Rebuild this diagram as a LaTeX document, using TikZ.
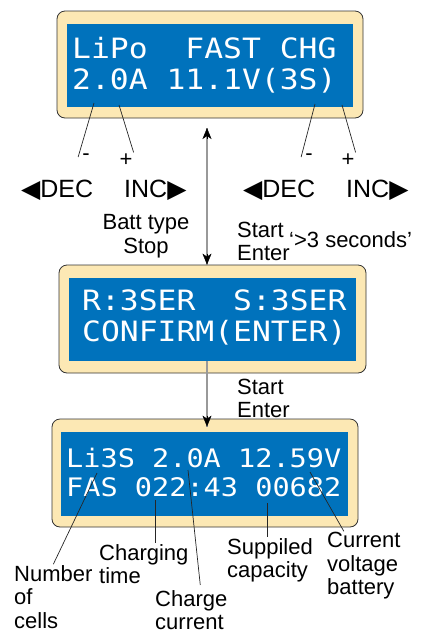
\documentclass[tikz,border=0pt]{standalone}
\usepackage{fontspec}
\setmainfont{Liberation Sans}
\newfontfamily\lcdfont[FakeStretch=1.12]{DejaVu Sans Mono}
\newfontfamily\symfont{DejaVu Sans}
\usetikzlibrary{arrows.meta}
\definecolor{lcdblue}{RGB}{0,114,188}
\definecolor{lcdcream}{RGB}{252,232,180}

\begin{document}
\begin{tikzpicture}[x=1pt,y=-1pt]

%
% Styles
%
\tikzstyle{panel} = [rectangle,rounded corners=8pt,draw=black!80,fill=lcdcream,line width=0.8pt,inner sep=0pt]
\tikzstyle{screen} = [rectangle,fill=lcdblue,inner sep=0pt]
\tikzstyle{lcd} = [text=white,font=\lcdfont\fontsize{28}{31}\selectfont,align=left,anchor=west,inner sep=0pt]
\tikzstyle{lbl} = [font=\fontsize{22}{23.5}\selectfont,align=left,inner sep=1pt]
\tikzstyle{key} = [font=\fontsize{25}{28}\selectfont,inner sep=0pt,anchor=west]
\tikzstyle{lead} = [draw=black!85,line width=0.7pt]
\tikzstyle{flow} = [draw=black!40,line width=1.2pt]
\tikzstyle{tip} = [-{Stealth[length=11pt,width=9pt,inset=3pt,color=black]}]

\useasboundingbox (0,0) rectangle (423,633);

% panels
\node[panel,minimum width=306pt,minimum height=107pt] (lcdA) at (210,64.5) {};
\node[screen,minimum width=286pt,minimum height=83pt] (scrA) at (210,65.5) {};
\node[panel,minimum width=307pt,minimum height=108pt] (lcdB) at (212.5,319) {};
\node[screen,minimum width=287pt,minimum height=83pt] (scrB) at (212.5,319.5) {};
\node[panel,minimum width=306pt,minimum height=108pt] (lcdC) at (205,473) {};
\node[screen,minimum width=287pt,minimum height=84pt] (scrC) at (204.5,474) {};

\node[lcd] (txtA) at (72,65) {LiPo~~FAST CHG\\2.0A 11.1V(3S)};
\node[lcd] (txtB) at (82,317) {R:3SER~~S:3SER\\CONFIRM(ENTER)};
\node[lcd,font=\lcdfont\fontsize{25.5}{29}\selectfont] (txtC) at (66,472.5) {Li3S 2.0A 12.59V\\FAS 022:43 00682};

% keys
\node[lbl] (m1) at (86,157) {-};
\node[lbl] (p1) at (126,160) {+};
\node[lbl] (m2) at (309,157) {-};
\node[lbl] (p2) at (348,160) {+};
\node[key] (dec1) at (21,190) {{\symfont ◀}DEC};
\node[key] (inc1) at (124,190) {INC{\symfont ▶}};
\node[key] (dec2) at (243,190) {{\symfont ◀}DEC};
\node[key] (inc2) at (346,190) {INC{\symfont ▶}};

\coordinate (s1) at (94,103);
\coordinate (s2) at (119,105);
\coordinate (s3) at (315,104);
\coordinate (s4) at (342,105);
\draw[lead] (s1) -- ([xshift=-3pt]m1.west);
\draw[lead] (s2) -- (p1.north east);
\draw[lead] (s3) -- ([xshift=-3pt]m2.west);
\draw[lead] (s4) -- (p2.north east);

% flow
\coordinate (a1) at (207,128);
\coordinate (a2) at (207,361);
\draw[flow] (a1) -- (a1 |- lcdB.north);
\draw[tip] ([yshift=-11pt]a1) -- (a1);
\draw[tip] ([yshift=11pt]a1 |- lcdB.north) -- (a1 |- lcdB.north);
\draw[flow] (a2) -- ([yshift=-8pt]a2 |- lcdC.north);
\draw[tip] ([yshift=3pt]a2 |- lcdC.north) -- ([yshift=-8pt]a2 |- lcdC.north);

\node[lbl,align=center] (batt) at (146,236) {Batt type\\Stop};
\node[lbl,anchor=west] (start1) at (236,241.5) {Start\\Enter};
\node[lbl,anchor=west] (secs) at (288,240) {‘>3 seconds’};
\node[lbl,anchor=west] (start2) at (236,398.5) {Start\\Enter};

% bottom labels
\node[lbl,anchor=west] (num) at (13,597) {Number\\of\\cells};
\node[lbl,anchor=west] (chg) at (98,564) {Charging\\time};
\node[lbl,anchor=west] (cur) at (154,610) {Charge\\current};
\node[lbl,anchor=west] (sup) at (226,560.5) {Suppiled\\capacity};
\node[lbl,anchor=west] (volt) at (326,566) {Current\\voltage\\battery};

\coordinate (c1) at (97,473);
\coordinate (c2) at (155,500);
\coordinate (c3) at (188,470);
\coordinate (c4) at (267,503);
\coordinate (c5) at (310,472);
\draw[lead] (c1) -- (num.north);
\draw[lead] (c2) -- (c2 |- chg.north);
\draw[lead] (c3) -- ([xshift=9pt,yshift=4pt]cur.north);
\draw[lead] (c4) -- (c4 |- sup.north);
\draw[lead] (c5) -- ([xshift=-20pt]volt.north);

\end{tikzpicture}
\end{document}
